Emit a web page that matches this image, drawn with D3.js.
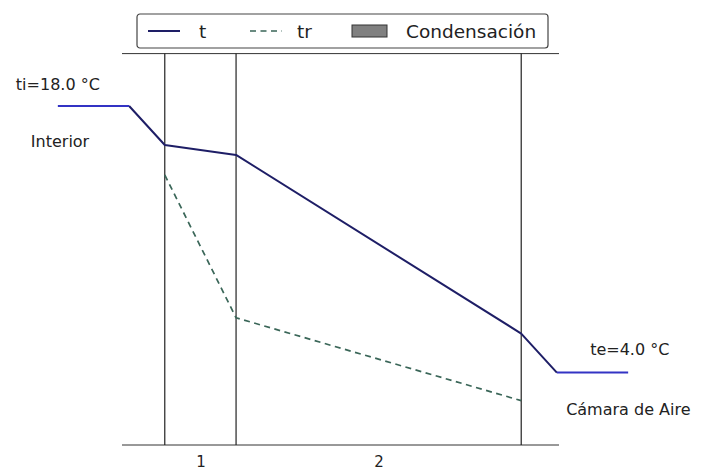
<!DOCTYPE html>
<html>
<head>
<meta charset="utf-8">
<script src="https://cdn.jsdelivr.net/npm/d3@7"></script>
<style>
  body { margin: 0; background: #fff; }
  svg { display: block; font-family: "DejaVu Sans", sans-serif; }
</style>
</head>
<body>
<svg id="chart" width="701" height="473"></svg>
<script>
// Wall profile: positions along the section (layer 1 spans 0..1, layer 2 spans 1..5)
const boundaries = [0, 1, 5];
const layerLabels = ["1", "2"];

// Temperature profile t (°C) through interior film, layers and exterior film
const tX = [-1.5, -0.5, 0, 1, 5, 5.5, 6.5];
const tValues = [18.0, 18.0, 15.95, 15.43, 6.05, 4.0, 4.0];

// Dew-point temperature tr (°C) at the layer interfaces
const trX = [0, 1, 5];
const trValues = [14.38, 6.88, 2.53];

const ti = 18.0, te = 4.0;
const legendLabels = ["t", "tr", "Condensación"];

const svg = d3.select("#chart");

const x = d3.scaleLinear().domain([-0.6, 5.53]).range([122, 559]);
const y = d3.scaleLinear().domain([0.2, 20.75]).range([445, 53.6]);

const inkAxis = "#333";
const colT = "#1e1e66";
const colFlat = "#3333c4";
const colTr = "#3a6658";

// Top and bottom spines
svg.append("line")
  .attr("x1", x.range()[0]).attr("x2", x.range()[1])
  .attr("y1", y(y.domain()[1])).attr("y2", y(y.domain()[1]))
  .attr("stroke", inkAxis).attr("stroke-width", 1);
svg.append("line")
  .attr("x1", x.range()[0]).attr("x2", x.range()[1])
  .attr("y1", y(y.domain()[0])).attr("y2", y(y.domain()[0]))
  .attr("stroke", inkAxis).attr("stroke-width", 1);

// Layer interfaces
svg.selectAll("line.interface").data(boundaries).join("line")
  .attr("class", "interface")
  .attr("x1", d => x(d)).attr("x2", d => x(d))
  .attr("y1", y(y.domain()[1])).attr("y2", y(y.domain()[0]))
  .attr("stroke", "#222").attr("stroke-width", 1.2);

// Layer numbers below the section
const mids = layerLabels.map((_, i) => (boundaries[i] + boundaries[i + 1]) / 2);
const xAxis = d3.axisBottom(x).tickValues(mids)
  .tickFormat((d, i) => layerLabels[i]).tickSize(0).tickPadding(11);
const gx = svg.append("g").attr("transform", `translate(0,${y(y.domain()[0])})`).call(xAxis);
gx.select(".domain").remove();
gx.selectAll("text").attr("font-size", 15).attr("fill", "#222")
  .attr("font-family", "DejaVu Sans, sans-serif");

// Temperature line
const pts = tX.map((d, i) => [d, tValues[i]]);
const line = d3.line().x(d => x(d[0])).y(d => y(d[1]));
svg.append("path").datum(pts.slice(1, 6))
  .attr("d", line).attr("fill", "none")
  .attr("stroke", colT).attr("stroke-width", 2).attr("stroke-linejoin", "round");
// Interior and exterior air segments
[[pts[0], pts[1]], [pts[5], pts[6]]].forEach(seg => {
  svg.append("path").datum(seg)
    .attr("d", line).attr("fill", "none")
    .attr("stroke", colFlat).attr("stroke-width", 2);
});

// Dew-point line
svg.append("path").datum(trX.map((d, i) => [d, trValues[i]]))
  .attr("d", line).attr("fill", "none")
  .attr("stroke", colTr).attr("stroke-width", 1.7)
  .attr("stroke-dasharray", "6,4.5");

// Annotations
const txt = (xx, yy, s) => svg.append("text")
  .attr("x", xx).attr("y", yy).attr("font-size", 16).attr("fill", "#222").text(s);
txt(x(tX[0]) - 42, y(ti) - 16, `ti=${ti.toFixed(1)} °C`);
txt(x(tX[0]) - 27, y(ti) + 41, "Interior");
txt(x(tX[6]) - 38, y(te) - 18, `te=${te.toFixed(1)} °C`);
txt(x(tX[6]) - 62, y(te) + 42, "Cámara de Aire");

// Legend
const lg = svg.append("g").attr("transform", "translate(137,14)");
lg.append("rect").attr("x", 0).attr("y", 0).attr("width", 411).attr("height", 34)
  .attr("rx", 3).attr("fill", "#fff").attr("stroke", "#444").attr("stroke-width", 1.2);
lg.append("line").attr("x1", 11).attr("x2", 43).attr("y1", 17).attr("y2", 17)
  .attr("stroke", colT).attr("stroke-width", 2);
lg.append("line").attr("x1", 113).attr("x2", 145).attr("y1", 17).attr("y2", 17)
  .attr("stroke", colTr).attr("stroke-width", 1.7).attr("stroke-dasharray", "6,4.5");
lg.append("rect").attr("x", 215).attr("y", 11).attr("width", 35).attr("height", 12)
  .attr("fill", "#808080").attr("stroke", "#333").attr("stroke-width", 1);
const lx = [62, 160, 269];
legendLabels.forEach((s, i) => {
  lg.append("text").attr("x", lx[i]).attr("y", 24).attr("font-size", 18.5)
    .attr("fill", "#222").text(s);
});
</script>
</body>
</html>
